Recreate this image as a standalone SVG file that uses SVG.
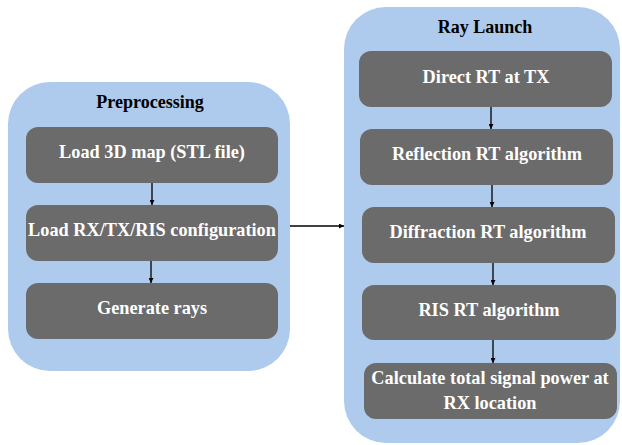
<svg xmlns="http://www.w3.org/2000/svg" width="622" height="445" viewBox="0 0 622 445">
<style>
.cont{fill:#aecaed;}
.box{fill:#6b6b6b;}
.title{font-family:"Liberation Serif",serif;font-weight:bold;font-size:18px;fill:#000;text-anchor:middle;}
.lbl{font-family:"Liberation Serif",serif;font-weight:bold;font-size:18.3px;fill:#fff;text-anchor:middle;}
.conn{stroke:#000;stroke-width:1.3;fill:none;marker-end:url(#ah);}
</style>
<defs>
<marker id="ah" viewBox="0 0 10 10" refX="10" refY="5" markerWidth="5" markerHeight="5" orient="auto" markerUnits="userSpaceOnUse"><path d="M0,0 L10,5 L0,10 z" fill="#000"/></marker>
</defs>
<rect width="622" height="445" fill="#fff"/>
<g id="preprocessing">
<rect class="cont" x="8" y="82" width="282" height="289" rx="42"/>
<text class="title" x="150" y="108">Preprocessing</text>
</g>
<g id="raylaunch">
<rect class="cont" x="344" y="7" width="276" height="436" rx="42"/>
<text class="title" x="485" y="33">Ray Launch</text>
</g>
<g id="load3d"><rect class="box" x="26" y="127" width="252" height="56" rx="12"/><text class="lbl" x="152" y="158">Load 3D map (STL file)</text></g>
<g id="loadcfg"><rect class="box" x="26" y="205" width="252" height="56" rx="12"/><text class="lbl" x="152" y="236">Load RX/TX/RIS configuration</text></g>
<g id="genrays"><rect class="box" x="26" y="283" width="252" height="56" rx="12"/><text class="lbl" x="152" y="314">Generate rays</text></g>
<g id="direct"><rect class="box" x="359" y="51" width="253" height="56" rx="12"/><text class="lbl" x="486" y="83">Direct RT at TX</text></g>
<g id="reflection"><rect class="box" x="360" y="129" width="253" height="56" rx="12"/><text class="lbl" x="487" y="160">Reflection RT algorithm</text></g>
<g id="diffraction"><rect class="box" x="362" y="207" width="253" height="56" rx="12"/><text class="lbl" x="488" y="238">Diffraction RT algorithm</text></g>
<g id="ris"><rect class="box" x="362" y="285" width="254" height="55" rx="12"/><text class="lbl" x="489" y="316">RIS RT algorithm</text></g>
<g id="calc"><rect class="box" x="364" y="363" width="253" height="56" rx="12"/><text class="lbl" x="490" y="384">Calculate total signal power at</text><text class="lbl" x="490" y="409">RX location</text></g>
<g id="connectors">
<line class="conn" x1="152" y1="183" x2="152" y2="205"/>
<line class="conn" x1="151" y1="261" x2="151" y2="283"/>
<line class="conn" x1="290" y1="226" x2="344" y2="226"/>
<line class="conn" x1="491" y1="107" x2="491" y2="129"/>
<line class="conn" x1="492" y1="185" x2="492" y2="207"/>
<line class="conn" x1="493" y1="263" x2="493" y2="285"/>
<line class="conn" x1="493" y1="340" x2="493" y2="363"/>
</g>
</svg>
